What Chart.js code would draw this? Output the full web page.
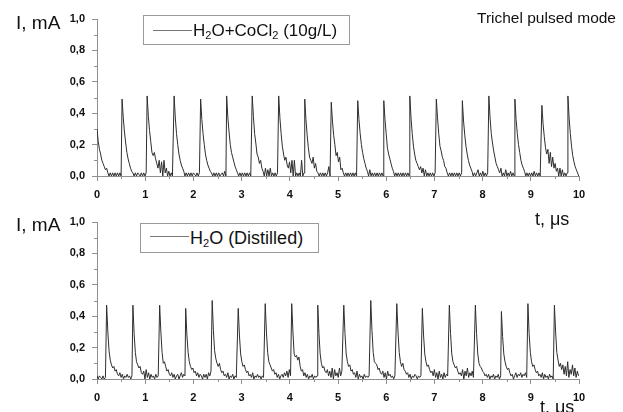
<!DOCTYPE html>
<html>
<head>
<meta charset="utf-8">
<script src="https://cdn.jsdelivr.net/npm/chart.js@4.4.1/dist/chart.umd.min.js"></script>
<style>
  body { margin: 0; background: #fff; }
  #wrap { position: relative; width: 623px; height: 412px; overflow: hidden; font-family: "Liberation Sans", Arial, sans-serif; }
  canvas { position: absolute; left: 0; }
  .txt { position: absolute; line-height: 1; white-space: nowrap; color: #111; }
  .legend { position: absolute; border: 1px solid #9a9a9a; background: #fff; box-sizing: border-box; }
  .legend .line { position: absolute; left: 9px; width: 39px; height: 1px; background: #777; }
  .legend .lab { position: absolute; left: 49px; line-height: 1; font-size: 17px; color: #111; white-space: nowrap; }
  sub { font-size: 11px; vertical-align: -3px; line-height: 0; }
</style>
</head>
<body>
<div id="wrap">
  <canvas id="topChart" width="623" height="205" style="top:0"></canvas>
  <canvas id="bottomChart" width="623" height="212" style="top:200px"></canvas>

  <div class="txt" style="left:16px; top:13px; font-size:19px">I, mA</div>
  <div class="txt" style="left:16px; top:215px; font-size:19px">I, mA</div>
  <div class="txt" style="left:477px; top:10px; font-size:15.5px">Trichel pulsed mode</div>
  <div class="txt" style="left:535px; top:210px; font-size:18px">t, μs</div>
  <div class="txt" style="left:540px; top:398px; font-size:18px">t, μs</div>

  <div class="legend" style="left:143px; top:15px; width:207px; height:30px">
    <div class="line" style="top:14px"></div>
    <div class="lab" style="top:6px">H<sub>2</sub>O+CoCl<sub>2</sub> (10g/L)</div>
  </div>
  <div class="legend" style="left:140px; top:223px; width:179px; height:30px">
    <div class="line" style="top:12px"></div>
    <div class="lab" style="top:5px; font-size:18px">H<sub>2</sub>O (Distilled)</div>
  </div>
</div>
<script>
// time between two samples of the trace, µs
const sampleStep = 0.025;

const xTicks = [0, 1, 2, 3, 4, 5, 6, 7, 8, 9, 10];
const yTicks = [0, 0.2, 0.4, 0.6, 0.8, 1.0];

// H2O + CoCl2 (10 g/L): pulse onset times (µs) and the samples that follow each onset (mA)
const cocl2Starts = [0, 0.52, 1.04, 1.60, 2.15, 2.69, 3.22, 3.77, 4.31, 4.86,
                     5.41, 5.95, 6.49, 7.04, 7.58, 8.13, 8.67, 9.23, 9.77];
const cocl2Pulses = [
  [0.30, 0.22, 0.17, 0.14, 0.10, 0.08, 0.06, 0.04, 0.05, 0.02, 0.0, 0.02, 0.0, 0.02, 0.0, 0.02, 0.0, 0.02, 0.0, 0.02, 0.0],
  [0.49, 0.37, 0.28, 0.21, 0.15, 0.11, 0.08, 0.05, 0.03, 0.02, 0.0, 0.02, 0.0, 0.02, 0.01, 0.0, 0.02, 0.0, 0.02, 0.0, 0.02],
  [0.51, 0.38, 0.29, 0.22, 0.15, 0.13, 0.15, 0.11, 0.08, 0.05, 0.10, 0.02, 0.09, 0.0, 0.10, 0.02, 0.05, 0.0, 0.03, 0.0, 0.02, 0.0],
  [0.51, 0.37, 0.27, 0.20, 0.14, 0.10, 0.07, 0.05, 0.03, 0.0, 0.02, 0.0, 0.02, 0.0, 0.02, 0.0, 0.02, 0.01, 0.0, 0.02, 0.0, 0.02],
  [0.49, 0.36, 0.27, 0.20, 0.14, 0.10, 0.07, 0.05, 0.03, 0.02, 0.0, 0.02, 0.0, 0.02, 0.0, 0.02, 0.0, 0.01, 0.02, 0.0, 0.03, 0.0],
  [0.51, 0.37, 0.28, 0.20, 0.15, 0.12, 0.09, 0.06, 0.04, 0.02, 0.0, 0.02, 0.0, 0.02, 0.0, 0.02, 0.0, 0.02, 0.0, 0.02, 0.0],
  [0.51, 0.38, 0.27, 0.21, 0.14, 0.12, 0.08, 0.10, 0.05, 0.03, 0.0, 0.05, 0.0, 0.04, 0.0, 0.05, 0.0, 0.02, 0.0, 0.02, 0.0, 0.02],
  [0.51, 0.37, 0.27, 0.19, 0.14, 0.10, 0.12, 0.07, 0.05, 0.09, 0.02, 0.10, 0.0, 0.10, 0.0, 0.02, 0.0, 0.02, 0.0, 0.10, 0.0, 0.02],
  [0.49, 0.36, 0.26, 0.18, 0.12, 0.10, 0.08, 0.12, 0.05, 0.08, 0.03, 0.02, 0.0, 0.02, 0.0, 0.02, 0.0, 0.02, 0.0, 0.02, 0.06, 0.0],
  [0.47, 0.35, 0.26, 0.20, 0.13, 0.15, 0.09, 0.12, 0.04, 0.05, 0.02, 0.0, 0.02, 0.0, 0.02, 0.0, 0.02, 0.0, 0.02, 0.0, 0.02, 0.0],
  [0.48, 0.36, 0.27, 0.20, 0.15, 0.11, 0.08, 0.05, 0.03, 0.0, 0.04, 0.0, 0.02, 0.0, 0.02, 0.0, 0.02, 0.0, 0.02, 0.0, 0.02, 0.0],
  [0.48, 0.36, 0.27, 0.18, 0.14, 0.11, 0.08, 0.05, 0.03, 0.0, 0.02, 0.0, 0.02, 0.0, 0.02, 0.0, 0.02, 0.0, 0.02, 0.0, 0.02, 0.0],
  [0.51, 0.37, 0.27, 0.19, 0.14, 0.10, 0.08, 0.06, 0.04, 0.06, 0.02, 0.05, 0.0, 0.04, 0.0, 0.02, 0.0, 0.02, 0.0, 0.02, 0.0, 0.02],
  [0.49, 0.37, 0.27, 0.19, 0.16, 0.12, 0.10, 0.06, 0.05, 0.02, 0.0, 0.02, 0.0, 0.02, 0.0, 0.02, 0.0, 0.02, 0.0, 0.02, 0.0, 0.02],
  [0.48, 0.35, 0.26, 0.19, 0.14, 0.10, 0.07, 0.05, 0.03, 0.0, 0.02, 0.0, 0.02, 0.04, 0.0, 0.02, 0.0, 0.03, 0.0, 0.02, 0.0, 0.02],
  [0.51, 0.37, 0.27, 0.21, 0.16, 0.12, 0.08, 0.06, 0.04, 0.02, 0.05, 0.0, 0.02, 0.0, 0.04, 0.0, 0.02, 0.0, 0.03, 0.0, 0.02, 0.0],
  [0.49, 0.36, 0.27, 0.20, 0.15, 0.10, 0.07, 0.05, 0.03, 0.0, 0.02, 0.0, 0.02, 0.0, 0.02, 0.0, 0.03, 0.0, 0.02, 0.0, 0.02, 0.0],
  [0.45, 0.33, 0.25, 0.18, 0.14, 0.17, 0.08, 0.15, 0.06, 0.12, 0.05, 0.08, 0.03, 0.05, 0.0, 0.05, 0.0, 0.04, 0.0, 0.02, 0.0, 0.02],
  [0.51, 0.37, 0.27, 0.19, 0.13, 0.09, 0.06, 0.04, 0.02, 0.0, 0.02]
];

// H2O distilled
const waterStarts = [0, 0.20, 0.745, 1.30, 1.84, 2.39, 2.93, 3.49, 4.04, 4.58,
                     5.12, 5.68, 6.22, 6.75, 7.31, 7.85, 8.39, 8.94, 9.49];
const waterPulses = [
  [0.02, 0.0, 0.02, 0.01, 0.0, 0.02, 0.0, 0.01],
  [0.47, 0.30, 0.18, 0.12, 0.09, 0.07, 0.08, 0.05, 0.06, 0.03, 0.02, 0.04, 0.01, 0.03, 0.0, 0.02, 0.01, 0.03, 0.01, 0.02, 0.0, 0.02],
  [0.47, 0.29, 0.17, 0.11, 0.09, 0.07, 0.08, 0.04, 0.03, 0.05, 0.0, 0.06, 0.01, 0.04, 0.0, 0.03, 0.01, 0.02, 0.0, 0.03, 0.01, 0.02],
  [0.47, 0.30, 0.17, 0.10, 0.11, 0.08, 0.05, 0.06, 0.03, 0.02, 0.04, 0.01, 0.03, 0.0, 0.02, 0.03, 0.0, 0.02, 0.04, 0.01, 0.03, 0.02],
  [0.45, 0.28, 0.17, 0.11, 0.08, 0.06, 0.07, 0.04, 0.05, 0.02, 0.04, 0.01, 0.03, 0.02, 0.0, 0.03, 0.01, 0.03, 0.0, 0.04, 0.02, 0.05],
  [0.50, 0.31, 0.18, 0.13, 0.10, 0.08, 0.10, 0.06, 0.04, 0.05, 0.02, 0.03, 0.01, 0.04, 0.0, 0.02, 0.01, 0.03, 0.0, 0.02, 0.01],
  [0.45, 0.28, 0.16, 0.11, 0.08, 0.09, 0.06, 0.04, 0.05, 0.02, 0.03, 0.01, 0.04, 0.0, 0.02, 0.01, 0.03, 0.01, 0.02, 0.0, 0.02, 0.01],
  [0.48, 0.30, 0.17, 0.11, 0.09, 0.07, 0.05, 0.06, 0.03, 0.04, 0.01, 0.03, 0.0, 0.02, 0.03, 0.01, 0.04, 0.02, 0.05, 0.01, 0.06, 0.02],
  [0.48, 0.30, 0.16, 0.14, 0.15, 0.12, 0.14, 0.08, 0.05, 0.06, 0.02, 0.04, 0.01, 0.03, 0.0, 0.02, 0.01, 0.03, 0.0, 0.02, 0.01, 0.02],
  [0.47, 0.29, 0.16, 0.10, 0.07, 0.08, 0.05, 0.04, 0.06, 0.02, 0.05, 0.01, 0.07, 0.0, 0.06, 0.02, 0.04, 0.01, 0.07, 0.02, 0.05],
  [0.47, 0.29, 0.16, 0.11, 0.08, 0.09, 0.05, 0.06, 0.03, 0.04, 0.01, 0.05, 0.0, 0.03, 0.01, 0.02, 0.0, 0.03, 0.01, 0.02, 0.01, 0.02],
  [0.50, 0.31, 0.17, 0.11, 0.10, 0.09, 0.06, 0.07, 0.04, 0.03, 0.05, 0.01, 0.04, 0.0, 0.05, 0.02, 0.03, 0.01, 0.02, 0.0, 0.02],
  [0.48, 0.30, 0.17, 0.11, 0.08, 0.10, 0.06, 0.05, 0.03, 0.04, 0.01, 0.03, 0.0, 0.02, 0.01, 0.03, 0.02, 0.0, 0.02, 0.01, 0.02],
  [0.45, 0.28, 0.16, 0.11, 0.08, 0.09, 0.06, 0.04, 0.05, 0.02, 0.06, 0.01, 0.04, 0.0, 0.05, 0.01, 0.03, 0.0, 0.04, 0.01, 0.03, 0.02],
  [0.47, 0.29, 0.16, 0.11, 0.09, 0.07, 0.08, 0.05, 0.03, 0.04, 0.02, 0.06, 0.0, 0.05, 0.02, 0.07, 0.01, 0.04, 0.02, 0.05, 0.01],
  [0.47, 0.29, 0.16, 0.10, 0.08, 0.07, 0.05, 0.04, 0.02, 0.03, 0.01, 0.03, 0.0, 0.02, 0.01, 0.03, 0.0, 0.02, 0.01, 0.03, 0.0, 0.02],
  [0.43, 0.27, 0.16, 0.11, 0.08, 0.06, 0.07, 0.04, 0.02, 0.03, 0.0, 0.02, 0.04, 0.01, 0.03, 0.02, 0.04, 0.01, 0.03, 0.02, 0.04, 0.01],
  [0.48, 0.29, 0.17, 0.11, 0.08, 0.09, 0.06, 0.04, 0.05, 0.02, 0.03, 0.01, 0.04, 0.0, 0.03, 0.01, 0.02, 0.0, 0.03, 0.01, 0.02, 0.0],
  [0.47, 0.30, 0.17, 0.12, 0.08, 0.10, 0.06, 0.09, 0.03, 0.08, 0.02, 0.11, 0.01, 0.06, 0.03, 0.09, 0.02, 0.07, 0.01, 0.05, 0.02]
];

// lay the samples of each pulse out in time, stopping where the next pulse begins
function toPoints(starts, pulses) {
  const pts = [];
  starts.forEach((t0, i) => {
    const stop = i + 1 < starts.length ? starts[i + 1] : 10.001;
    pulses[i].forEach((v, k) => {
      const t = t0 + k * sampleStep;
      if (t < stop - 1e-6) pts.push({ x: +t.toFixed(4), y: v });
    });
  });
  return pts;
}

const axisGrey = '#8f8f8f';
const tickFont = { family: 'Liberation Sans, Arial, sans-serif', size: 11, weight: 'bold' };

// small ticks between the labelled ones
const minorTicks = {
  id: 'minorTicks',
  afterDraw(chart) {
    const c = chart.ctx, xs = chart.scales.x, ys = chart.scales.y;
    c.save();
    c.strokeStyle = axisGrey;
    c.lineWidth = 1;
    c.beginPath();
    for (let v = 0.5; v < 10; v += 1) {
      const px = Math.round(xs.getPixelForValue(v)) + 0.5;
      c.moveTo(px, ys.bottom);
      c.lineTo(px, ys.bottom + 3);
    }
    for (let v = 0.1; v < 1; v += 0.2) {
      const py = Math.round(ys.getPixelForValue(v)) + 0.5;
      c.moveTo(xs.left - 3, py);
      c.lineTo(xs.left, py);
    }
    c.stroke();
    c.restore();
  }
};

function createChart(id, points, pad, xHeight) {
  return new Chart(document.getElementById(id), {
    type: 'line',
    data: {
      datasets: [{
        data: points,
        borderColor: '#2e2e2e',
        borderWidth: 1,
        pointRadius: 0,
        tension: 0
      }]
    },
    options: {
      responsive: false,
      animation: false,
      layout: { padding: pad },
      plugins: { legend: { display: false }, tooltip: { enabled: false } },
      scales: {
        x: {
          type: 'linear',
          min: 0,
          max: 10,
          afterFit: s => { s.height = xHeight; },
          afterBuildTicks: s => { s.ticks = xTicks.map(v => ({ value: v })); },
          ticks: { color: '#111', font: tickFont, padding: 7, maxRotation: 0, callback: v => String(v) },
          grid: { drawOnChartArea: false, tickLength: 5, color: axisGrey },
          border: { color: axisGrey }
        },
        y: {
          min: 0,
          max: 1,
          afterFit: s => { s.width = 97; },
          afterBuildTicks: s => { s.ticks = yTicks.map(v => ({ value: v })); },
          ticks: { color: '#111', font: tickFont, padding: 7, callback: v => v.toFixed(1).replace('.', ',') },
          grid: { drawOnChartArea: false, tickLength: 5, color: axisGrey },
          border: { color: axisGrey }
        }
      }
    },
    plugins: [minorTicks]
  });
}

createChart('topChart', toPoints(cocl2Starts, cocl2Pulses), { left: 0, top: 19, right: 44, bottom: 0 }, 29);
createChart('bottomChart', toPoints(waterStarts, waterPulses), { left: 0, top: 22, right: 44, bottom: 0 }, 33);
</script>
</body>
</html>
